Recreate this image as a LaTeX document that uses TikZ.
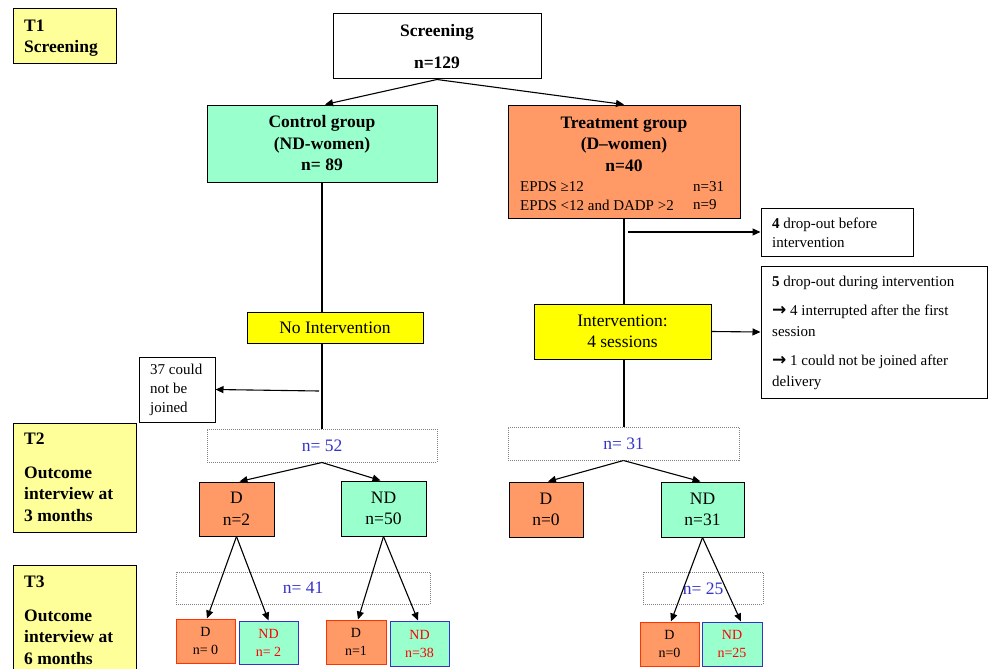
\documentclass[tikz,border=0pt]{standalone}
\usepackage{fontspec}
\setmainfont{Liberation Serif}
\newfontfamily\arrfont{DejaVu Sans}
\usetikzlibrary{arrows.meta,calc}
\definecolor{mint}{HTML}{99FFCC}
\definecolor{orng}{HTML}{FF9966}
\definecolor{yel}{HTML}{FFFF00}
\definecolor{lyel}{HTML}{FFFF99}
\definecolor{nblue}{HTML}{3333CC}
\definecolor{nred}{HTML}{FF0000}
\definecolor{bred}{HTML}{FF3300}
\newcommand\rarr{{\arrfont\bfseries\fontsize{17}{21}\selectfont →}}
\begin{document}
\begin{tikzpicture}[x=1pt,y=-1pt,
  box/.style={draw=black,line width=1pt,inner sep=0pt,rectangle},
  dotbox/.style={draw=gray,densely dotted,line width=1pt,inner sep=0pt,rectangle},
  big/.style={font=\fontsize{17.5}{21.5}\selectfont},
  bigb/.style={font=\fontsize{17.5}{21.5}\selectfont\bfseries},
  small/.style={font=\fontsize{15}{21}\selectfont},
  tiny/.style={font=\fontsize{14}{18}\selectfont},
  arr/.style={line width=1.1pt,-{Triangle[length=8pt,width=7pt]}},
  ln/.style={line width=1.1pt},
  sz/.style n args={2}{minimum width=#1pt,minimum height=#2pt}
]
\useasboundingbox (0,0) rectangle (988,669);
\fill[white] (0,0) rectangle (988,669);

% time labels
\node[box,fill=lyel,sz={103}{55}] (t1) at (64.5,36.5) {};
\node[bigb,anchor=west,align=left,inner sep=0pt] (t1t) at (24,38) {T1\\Screening};
\node[box,fill=lyel,sz={123}{109}] (t2) at (74.5,477.5) {};
\node[bigb,anchor=west,align=left,inner sep=0pt] (t2t) at (24,477.5) {T2\\[12pt]Outcome\\interview at\\3 months};
\node[box,fill=lyel,sz={123}{110}] (t3) at (74.5,620) {};
\node[bigb,anchor=west,align=left,inner sep=0pt] (t3t) at (24,620.5) {T3\\[12pt]Outcome\\interview at\\6 months};

% screening
\node[box,fill=white,sz={208}{65},bigb,align=center] (scr) at (437,46.5) {Screening\\[10.5pt]n=129};

% groups
\node[box,fill=mint,sz={230}{77},bigb,align=center] (ctrl) at (322,143.5) {Control group\\(ND-women)\\n= 89};
\node[box,fill=orng,sz={232}{113}] (treat) at (624,161.5) {};
\node[bigb,align=center,inner sep=0pt] (treatt) at (624,144) {Treatment group\\(D–women)\\n=40};
\node[small,anchor=west,inner sep=0pt] (ep1) at (520,187) {EPDS ≥12};
\node[small,anchor=west,inner sep=0pt] (ep1n) at (693,187) {n=31};
\node[small,anchor=west,inner sep=0pt] (ep2) at (520,205) {EPDS <12 and DADP >2};
\node[small,anchor=west,inner sep=0pt] (ep2n) at (693,205) {n=9};

\draw[arr] (scr.south) -- ([xshift=3pt]ctrl.north);
\draw[arr] (scr.south) -- (treat.north);

% control branch
\node[box,fill=yel,sz={176}{31},big] (noint) at (335,327.5) {No Intervention};
\node[box,fill=white,sz={76}{65}] (c37) at (177,389.5) {};
\node[small,anchor=west,align=left,inner sep=0pt,font=\fontsize{15}{19}\selectfont] (c37t) at (150,390) {37 could\\not be\\joined};
\node[dotbox,sz={230}{33},big,text=nblue] (n52) at (322,445.5) {n= 52};
\draw[ln] (ctrl.south) -- (ctrl.south |- noint.north);
\draw[ln] (ctrl.south |- noint.south) -- (n52.north);
\coordinate (c37s) at (319,391);
\draw[arr] (c37s) -- (c37.east);

% treatment branch
\node[box,fill=white,sz={152}{48}] (d4) at (837,232) {};
\node[small,anchor=west,align=left,inner sep=0pt,font=\fontsize{15}{19}\selectfont] (d4t) at (772,232.5) {\textbf{4} drop-out before\\intervention};
\coordinate (d4s) at (628,232);
\draw[arr] (d4s) -- (d4.west);
\node[box,fill=yel,sz={177}{55},big,align=center] (interv) at (622.5,331.5) {Intervention:\\4 sessions};
\node[box,fill=white,sz={226}{132}] (d5) at (874,332) {};
\node[small,anchor=west,align=left,inner sep=0pt] (d5t) at (772,333) {\textbf{5} drop-out during intervention\\[8pt]\rarr{} 4 interrupted after the first\\session\\[8pt]\rarr{} 1 could not be joined after\\delivery};
\node[dotbox,sz={231}{33},big,text=nblue] (n31) at (623.5,443.5) {n= 31};
\draw[ln] (treat.south) -- (treat.south |- interv.north);
\draw[ln] (treat.south |- interv.south) -- (treat.south |- n31.north);
\draw[arr] (interv.east) -- (d5.west);

% T2 outcomes
\node[box,fill=orng,sz={75}{54},big,align=center] (cd2) at (236.5,509) {D\\n=2};
\node[box,fill=mint,sz={85}{55},big,align=center] (cnd50) at (383.5,508.5) {ND\\n=50};
\node[box,fill=orng,sz={74}{55},big,align=center] (td0) at (546,509.5) {D\\n=0};
\node[box,fill=mint,sz={83}{55},big,align=center] (tnd31) at (702.5,509.5) {ND\\n=31};
\draw[arr] (n52.south) -- ([xshift=3pt]cd2.north);
\draw[arr] (n52.south) -- ([xshift=-3pt]cnd50.north);
\draw[arr] (n31.south) -- ([xshift=2pt]td0.north);
\draw[arr] (n31.south) -- ([xshift=-2pt]tnd31.north);

% T3 dotted boxes
\node[dotbox,sz={254}{32},big,text=nblue] (n41) at (303,588) {n= 41};
\node[dotbox,sz={120}{32}] (n25) at (703,588) {};
\node[big,text=nblue,inner sep=0pt] (n25t) at (703,589) {n= 25};

% T3 outcomes
\node[draw=bred,line width=1pt,fill=orng,sz={59}{44},tiny,align=center,inner sep=0pt] (a1) at (205.5,641) {D\\n= 0};
\node[draw=nblue,line width=1pt,fill=mint,sz={59}{43},tiny,align=center,inner sep=0pt,text=nred] (a2) at (268.5,642.5) {ND\\n= 2};
\node[draw=bred,line width=1pt,fill=orng,sz={60}{44},tiny,align=center,inner sep=0pt] (a3) at (356,642) {D\\n=1};
\node[draw=nblue,line width=1pt,fill=mint,sz={59}{45},tiny,align=center,inner sep=0pt,text=nred] (a4) at (419.5,643.5) {ND\\n=38};
\node[draw=bred,line width=1pt,fill=orng,sz={59}{44},tiny,align=center,inner sep=0pt] (a5) at (669.5,644) {D\\n=0};
\node[draw=nblue,line width=1pt,fill=mint,sz={60}{44},tiny,align=center,inner sep=0pt,text=nred] (a6) at (732,644) {ND\\n=25};

\draw[arr] (cd2.south) -- ([xshift=1.5pt]a1.north);
\draw[arr] (cd2.south) -- (a2.north);
\draw[arr] (cnd50.south) -- ([xshift=2pt]a3.north);
\draw[arr] (cnd50.south) -- ([xshift=-1.5pt]a4.north);
\draw[arr] (tnd31.south) -- ([xshift=1.5pt]a5.north);
\draw[arr] (tnd31.south) -- ([xshift=9pt]a6.north);
\end{tikzpicture}
\end{document}
